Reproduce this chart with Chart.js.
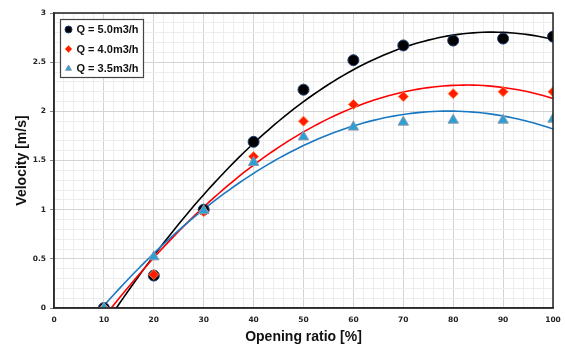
<!DOCTYPE html>
<html>
<head>
<meta charset="utf-8">
<script src="https://cdn.jsdelivr.net/npm/chart.js@4/dist/chart.umd.min.js"></script>
<style>
  html, body { margin: 0; padding: 0; background: #fff; }
  #wrap { width: 565px; height: 346px; }
</style>
</head>
<body>
<div id="wrap"><canvas id="velocityChart"></canvas></div>
<script>
// Data
const openingRatio = [10, 20, 30, 40, 50, 60, 70, 80, 90, 100];
const q50 = [0, 0.33, 1.0, 1.69, 2.22, 2.52, 2.67, 2.72, 2.74, 2.76];
const q40 = [0, 0.34, 0.98, 1.54, 1.90, 2.07, 2.15, 2.18, 2.20, 2.20];
const q35 = [0, 0.52, 0.99, 1.48, 1.74, 1.84, 1.89, 1.91, 1.91, 1.92];
const seriesLabels = ['Q = 5.0m3/h', 'Q = 4.0m3/h', 'Q = 3.5m3/h'];
const xMajorTicks = [0, 10, 20, 30, 40, 50, 60, 70, 80, 90, 100];
const yMajorTicks = [0, 0.5, 1, 1.5, 2, 2.5, 3];

// Polynomial (order 2) trendline, least squares fit of the data
function quadFit(xs, ys) {
  let s = [0, 0, 0, 0, 0], t = [0, 0, 0];
  xs.forEach((x, i) => {
    for (let k = 0; k < 5; k++) s[k] += Math.pow(x, k);
    for (let k = 0; k < 3; k++) t[k] += Math.pow(x, k) * ys[i];
  });
  const m = [[s[0], s[1], s[2], t[0]], [s[1], s[2], s[3], t[1]], [s[2], s[3], s[4], t[2]]];
  for (let i = 0; i < 3; i++) {
    for (let j = i + 1; j < 3; j++) {
      const f = m[j][i] / m[i][i];
      for (let k = i; k < 4; k++) m[j][k] -= f * m[i][k];
    }
  }
  const c = [0, 0, 0];
  for (let i = 2; i >= 0; i--) {
    let v = m[i][3];
    for (let k = i + 1; k < 3; k++) v -= m[i][k] * c[k];
    c[i] = v / m[i][i];
  }
  return c;
}

function trendPoints(ys) {
  const c = quadFit(openingRatio, ys);
  const pts = [];
  for (let x = openingRatio[0]; x <= openingRatio[openingRatio.length - 1]; x += 1) {
    pts.push({ x: x, y: c[0] + c[1] * x + c[2] * x * x });
  }
  return pts;
}

const toPoints = ys => openingRatio.map((x, i) => ({ x: x, y: ys[i] }));

const markerStyles = [
  { pointStyle: 'circle', backgroundColor: '#000000', borderColor: '#1f3f73', radius: 5.5 },
  { pointStyle: 'rectRot', backgroundColor: '#ff1a00', borderColor: '#ff8040', radius: 5 },
  { pointStyle: 'triangle', backgroundColor: '#2a9fd8', borderColor: '#8a9aa8', radius: 6 }
];
const lineColors = ['#000000', '#ff0000', '#1a78c2'];
const series = [q50, q40, q35];

const datasets = [];
series.forEach((ys, i) => {
  datasets.push({
    label: seriesLabels[i],
    data: toPoints(ys),
    showLine: false,
    pointStyle: markerStyles[i].pointStyle,
    pointRadius: markerStyles[i].radius,
    pointBackgroundColor: markerStyles[i].backgroundColor,
    pointBorderColor: markerStyles[i].borderColor,
    pointBorderWidth: 1,
    order: 3 - i   // later series drawn on top
  });
});
series.forEach((ys, i) => {
  datasets.push({
    label: 'trend ' + seriesLabels[i],
    data: trendPoints(ys),
    showLine: true,
    pointRadius: 0,
    borderColor: lineColors[i],
    borderWidth: 1.6,
    tension: 0,
    order: 6 - i
  });
});

// Frame around the plot and the legend box inside it
const frameAndLegend = {
  id: 'frameAndLegend',
  afterDraw(chart) {
    const ctx = chart.ctx;
    const a = chart.chartArea;
    ctx.save();
    ctx.strokeStyle = '#222';
    ctx.lineWidth = 1.5;
    ctx.strokeRect(a.left, a.top, a.right - a.left, a.bottom - a.top);

    const bx = 60.5, by = 19.5, bw = 83, bh = 58;
    ctx.fillStyle = '#fff';
    ctx.fillRect(bx, by, bw, bh);
    ctx.strokeStyle = '#444';
    ctx.lineWidth = 1.2;
    ctx.strokeRect(bx, by, bw, bh);

    ctx.font = 'bold 11px "Liberation Sans", Arial, sans-serif';
    ctx.textBaseline = 'middle';
    ctx.textAlign = 'left';
    seriesLabels.forEach((label, i) => {
      const y = by + 10 + i * 19.5;
      ctx.fillStyle = markerStyles[i].backgroundColor;
      ctx.strokeStyle = markerStyles[i].borderColor;
      ctx.lineWidth = 1;
      Chart.helpers.drawPoint(ctx, {
        pointStyle: markerStyles[i].pointStyle,
        radius: 3.5,
        rotation: 0,
        borderWidth: 1
      }, bx + 8, y);
      ctx.fillStyle = '#111';
      ctx.fillText(label, bx + 16, y + 0.5);
    });
    ctx.restore();
  }
};

const tickFont = { family: '"DejaVu Sans", Verdana, sans-serif', size: 7.5, weight: 'bold' };
const titleFont = { family: '"Liberation Sans", Arial, sans-serif', size: 14, weight: 'bold' };

new Chart(document.getElementById('velocityChart'), {
  type: 'scatter',
  data: { datasets: datasets },
  options: {
    responsive: true,
    maintainAspectRatio: false,
    animation: false,
    layout: { padding: { top: 13, right: 12, left: 0, bottom: 0 } },
    plugins: {
      legend: { display: false },
      tooltip: { enabled: false }
    },
    scales: {
      x: {
        type: 'linear',
        min: 0,
        max: 100,
        afterFit: s => { s.height = 38; },
        ticks: {
          stepSize: 2,
          autoSkip: false,
          maxRotation: 0,
          color: '#222',
          font: tickFont,
          padding: 4,
          callback: v => (xMajorTicks.includes(v) ? String(v) : '')
        },
        grid: {
          color: ctx => (xMajorTicks.includes(ctx.tick.value) ? '#d4d4d4' : '#ededed'),
          lineWidth: 1,
          drawTicks: true,
          tickLength: 4,
          tickColor: 'rgba(0,0,0,0)'
        },
        border: { color: '#444', width: 1.5 },
        title: {
          display: true,
          text: 'Opening ratio [%]',
          color: '#111',
          font: titleFont,
          padding: { top: 0, bottom: 0 }
        }
      },
      y: {
        min: 0,
        max: 3,
        afterFit: s => { s.width = 54; },
        ticks: {
          stepSize: 0.1,
          autoSkip: false,
          color: '#222',
          font: tickFont,
          padding: 4,
          callback: v => {
            const r = Math.round(v * 10) / 10;
            return yMajorTicks.includes(r) ? String(r) : '';
          }
        },
        grid: {
          color: ctx => (yMajorTicks.includes(Math.round(ctx.tick.value * 10) / 10) ? '#d4d4d4' : '#ededed'),
          lineWidth: 1,
          drawTicks: true,
          tickLength: 4,
          tickColor: ctx => (yMajorTicks.includes(Math.round(ctx.tick.value * 10) / 10) ? '#888' : 'rgba(0,0,0,0)')
        },
        border: { color: '#444', width: 1.5 },
        title: {
          display: true,
          text: 'Velocity [m/s]',
          color: '#111',
          font: titleFont,
          padding: { top: 14, bottom: 0 }
        }
      }
    }
  },
  plugins: [frameAndLegend]
});
</script>
</body>
</html>
